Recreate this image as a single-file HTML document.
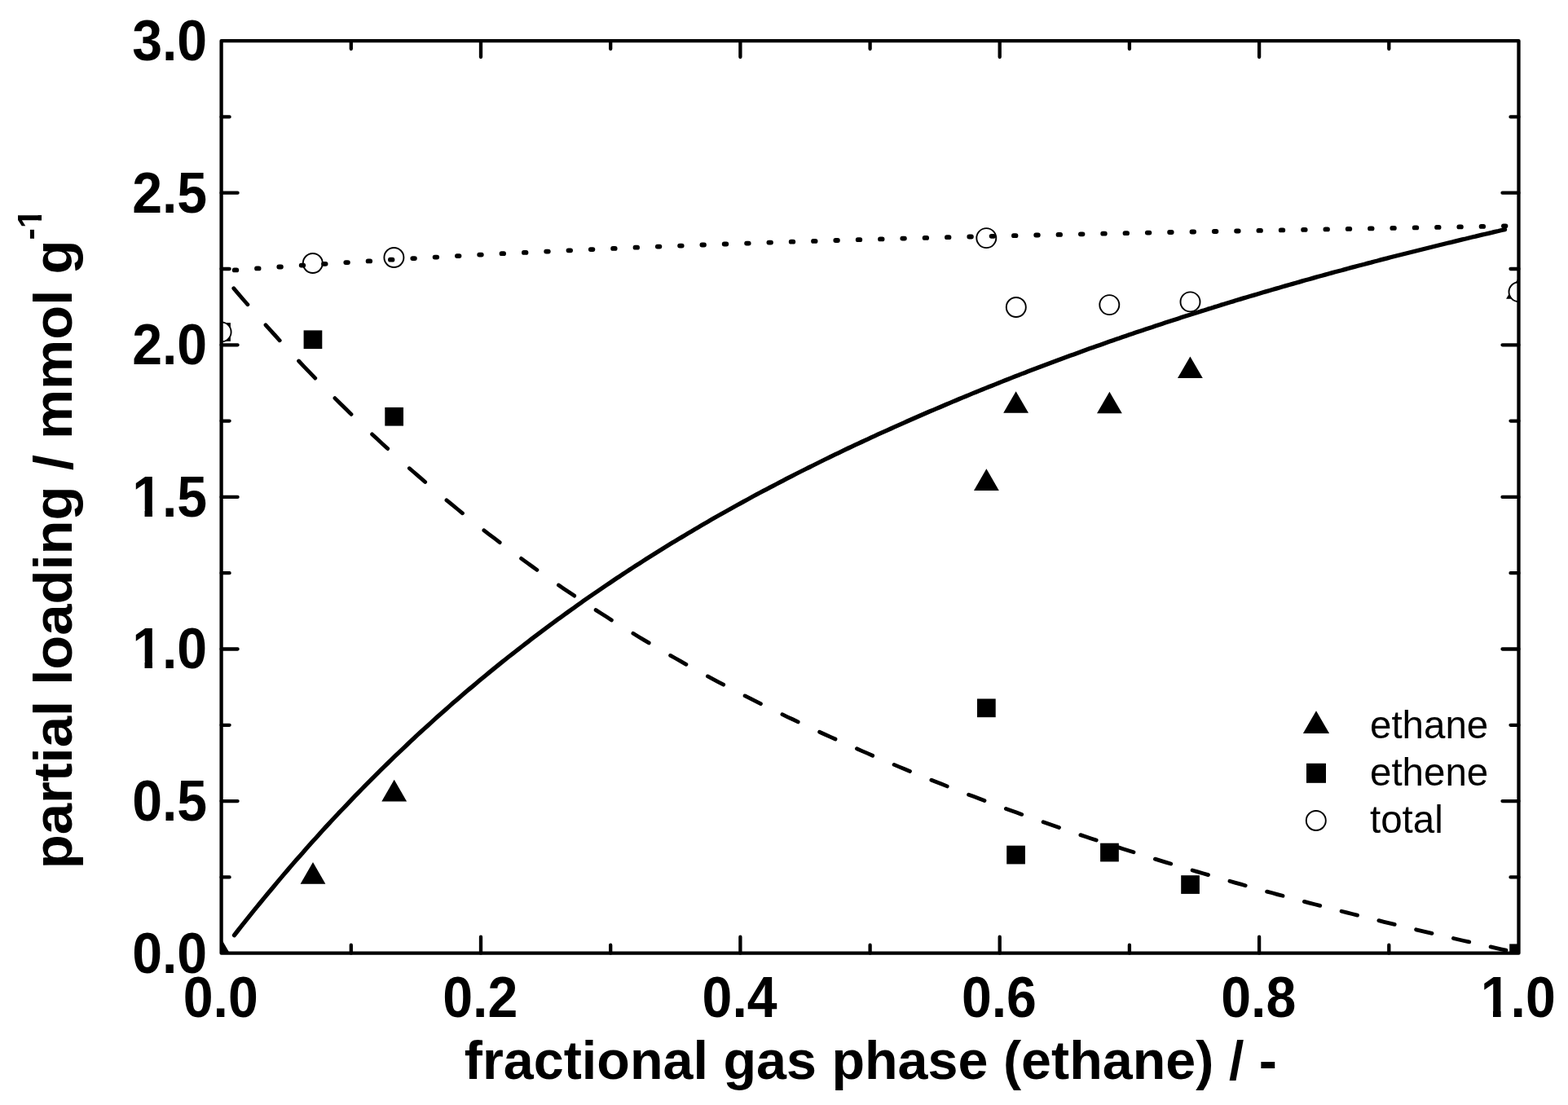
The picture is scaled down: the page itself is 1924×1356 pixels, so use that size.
<!DOCTYPE html>
<html><head><meta charset="utf-8"><title>partial loading</title>
<style>
html,body{margin:0;padding:0;background:#fff;overflow:hidden;width:1924px;height:1356px;}
svg{display:block;}
.b{font-family:"Liberation Sans",Arial,sans-serif;font-weight:bold;fill:#000;}
.r{font-family:"Liberation Sans",Arial,sans-serif;font-weight:normal;fill:#000;}
</style></head><body>
<svg width="1924" height="1356" viewBox="0 0 1924 1356">
<rect width="1924" height="1356" fill="#fff"/>
<defs><clipPath id="pc"><rect x="271.6" y="50.1" width="1591.9" height="1119.6000000000001"/></clipPath></defs>
<g clip-path="url(#pc)">
<g fill="#000"><path d="M271.6,1152.0 L287.0,1178.6 L256.2,1178.6Z"/><path d="M384.0,1058.1 L399.4,1084.7 L368.6,1084.7Z"/><path d="M483.7,956.8 L499.1,983.4 L468.3,983.4Z"/><path d="M1210.4,575.3 L1225.8,601.9 L1195.0,601.9Z"/><path d="M1246.6,480.2 L1262.0,506.8 L1231.2,506.8Z"/><path d="M1361.4,480.7 L1376.8,507.3 L1346.0,507.3Z"/><path d="M1460.4,437.5 L1475.8,464.1 L1445.0,464.1Z"/><path d="M1863.5,340.2 L1878.9,366.8 L1848.1,366.8Z"/></g>
<g fill="#000"><rect x="260.2" y="396.1" width="22.7" height="22.7"/><rect x="372.6" y="405.4" width="22.7" height="22.7"/><rect x="472.3" y="499.9" width="22.7" height="22.7"/><rect x="1199.0" y="857.5" width="22.7" height="22.7"/><rect x="1235.2" y="1037.7" width="22.7" height="22.7"/><rect x="1350.1" y="1034.7" width="22.7" height="22.7"/><rect x="1449.2" y="1074.2" width="22.7" height="22.7"/><rect x="1852.2" y="1158.4" width="22.7" height="22.7"/></g>
<g fill="#fff" stroke="#000" stroke-width="1.9"><circle cx="271.6" cy="407.4" r="12.0"/><circle cx="383.8" cy="323.0" r="12.0"/><circle cx="483.4" cy="316.0" r="12.0"/><circle cx="1210.3" cy="292.1" r="12.0"/><circle cx="1246.8" cy="377.0" r="12.0"/><circle cx="1361.3" cy="374.1" r="12.0"/><circle cx="1460.5" cy="370.4" r="12.0"/><circle cx="1863.5" cy="358.2" r="12.0"/></g>
<polyline fill="none" stroke="#000" stroke-width="5.3" stroke-linecap="round" stroke-linejoin="round" points="287.5,1147.6 291.5,1142.5 295.5,1137.4 299.5,1132.4 303.5,1127.3 307.5,1122.3 311.5,1117.4 315.6,1112.4 319.6,1107.5 323.6,1102.6 327.6,1097.8 331.6,1093.0 335.6,1088.2 339.6,1083.4 343.6,1078.6 347.6,1073.9 351.6,1069.2 355.6,1064.6 359.6,1059.9 363.6,1055.3 367.7,1050.7 371.7,1046.2 375.7,1041.6 379.7,1037.1 383.7,1032.6 387.7,1028.2 391.7,1023.7 395.7,1019.3 399.7,1014.9 403.7,1010.6 407.7,1006.3 411.7,1002.0 415.7,997.7 419.8,993.5 423.8,989.3 427.8,985.1 431.8,980.9 435.8,976.7 439.8,972.6 443.8,968.5 447.8,964.4 451.8,960.4 455.8,956.3 459.8,952.3 463.8,948.3 467.8,944.4 471.9,940.4 475.9,936.5 479.9,932.6 483.9,928.7 487.9,924.9 491.9,921.1 495.9,917.3 499.9,913.5 503.9,909.7 507.9,906.0 511.9,902.2 515.9,898.5 519.9,894.9 524.0,891.2 528.0,887.6 532.0,883.9 536.0,880.3 540.0,876.8 544.0,873.2 548.0,869.7 552.0,866.1 556.0,862.6 560.0,859.2 564.0,855.7 568.0,852.3 572.0,848.8 576.1,845.4 580.1,842.1 584.1,838.7 588.1,835.3 592.1,832.0 596.1,828.7 600.1,825.4 604.1,822.1 608.1,818.9 612.1,815.6 616.1,812.4 620.1,809.2 624.1,806.0 628.2,802.9 632.2,799.7 636.2,796.6 640.2,793.5 644.2,790.4 648.2,787.3 652.2,784.2 656.2,781.2 660.2,778.1 664.2,775.1 668.2,772.1 672.2,769.1 676.2,766.1 680.3,763.2 684.3,760.2 688.3,757.3 692.3,754.4 696.3,751.5 700.3,748.6 704.3,745.8 708.3,742.9 712.3,740.1 716.3,737.2 720.3,734.4 724.3,731.6 728.3,728.9 732.4,726.1 736.4,723.4 740.4,720.6 744.4,717.9 748.4,715.2 752.4,712.5 756.4,709.8 760.4,707.2 764.4,704.5 768.4,701.9 772.4,699.2 776.4,696.6 780.4,694.0 784.5,691.5 788.5,688.9 792.5,686.3 796.5,683.8 800.5,681.3 804.5,678.7 808.5,676.2 812.5,673.7 816.5,671.3 820.5,668.8 824.5,666.3 828.5,663.9 832.5,661.5 836.6,659.1 840.6,656.7 844.6,654.3 848.6,651.9 852.6,649.5 856.6,647.2 860.6,644.8 864.6,642.5 868.6,640.2 872.6,637.8 876.6,635.5 880.6,633.3 884.6,631.0 888.7,628.7 892.7,626.5 896.7,624.2 900.7,622.0 904.7,619.8 908.7,617.6 912.7,615.4 916.7,613.2 920.7,611.0 924.7,608.8 928.7,606.7 932.7,604.5 936.7,602.4 940.8,600.3 944.8,598.2 948.8,596.1 952.8,594.0 956.8,591.9 960.8,589.8 964.8,587.7 968.8,585.6 972.8,583.6 976.8,581.5 980.8,579.5 984.8,577.5 988.8,575.5 992.9,573.5 996.9,571.5 1000.9,569.5 1004.9,567.5 1008.9,565.5 1012.9,563.5 1016.9,561.6 1020.9,559.6 1024.9,557.7 1028.9,555.8 1032.9,553.9 1036.9,551.9 1040.9,550.0 1045.0,548.1 1049.0,546.2 1053.0,544.4 1057.0,542.5 1061.0,540.6 1065.0,538.8 1069.0,536.9 1073.0,535.1 1077.0,533.2 1081.0,531.4 1085.0,529.6 1089.0,527.8 1093.1,526.0 1097.1,524.2 1101.1,522.4 1105.1,520.6 1109.1,518.8 1113.1,517.0 1117.1,515.3 1121.1,513.5 1125.1,511.8 1129.1,510.0 1133.1,508.3 1137.1,506.5 1141.1,504.8 1145.2,503.1 1149.2,501.4 1153.2,499.7 1157.2,498.0 1161.2,496.3 1165.2,494.6 1169.2,492.9 1173.2,491.2 1177.2,489.5 1181.2,487.9 1185.2,486.2 1189.2,484.6 1193.2,482.9 1197.3,481.3 1201.3,479.6 1205.3,478.0 1209.3,476.4 1213.3,474.8 1217.3,473.2 1221.3,471.6 1225.3,470.0 1229.3,468.4 1233.3,466.8 1237.3,465.2 1241.3,463.6 1245.3,462.0 1249.4,460.5 1253.4,458.9 1257.4,457.4 1261.4,455.8 1265.4,454.3 1269.4,452.8 1273.4,451.3 1277.4,449.7 1281.4,448.2 1285.4,446.7 1289.4,445.2 1293.4,443.7 1297.4,442.2 1301.5,440.7 1305.5,439.3 1309.5,437.8 1313.5,436.3 1317.5,434.9 1321.5,433.4 1325.5,432.0 1329.5,430.5 1333.5,429.1 1337.5,427.6 1341.5,426.2 1345.5,424.8 1349.5,423.4 1353.6,421.9 1357.6,420.5 1361.6,419.1 1365.6,417.7 1369.6,416.3 1373.6,415.0 1377.6,413.6 1381.6,412.2 1385.6,410.8 1389.6,409.5 1393.6,408.1 1397.6,406.7 1401.6,405.4 1405.7,404.0 1409.7,402.7 1413.7,401.4 1417.7,400.0 1421.7,398.7 1425.7,397.4 1429.7,396.1 1433.7,394.8 1437.7,393.5 1441.7,392.2 1445.7,390.9 1449.7,389.6 1453.7,388.3 1457.8,387.0 1461.8,385.7 1465.8,384.5 1469.8,383.2 1473.8,381.9 1477.8,380.7 1481.8,379.4 1485.8,378.2 1489.8,376.9 1493.8,375.7 1497.8,374.4 1501.8,373.2 1505.8,372.0 1509.9,370.8 1513.9,369.6 1517.9,368.3 1521.9,367.1 1525.9,365.9 1529.9,364.7 1533.9,363.5 1537.9,362.4 1541.9,361.2 1545.9,360.0 1549.9,358.8 1553.9,357.6 1557.9,356.5 1562.0,355.3 1566.0,354.1 1570.0,353.0 1574.0,351.8 1578.0,350.6 1582.0,349.5 1586.0,348.4 1590.0,347.2 1594.0,346.1 1598.0,344.9 1602.0,343.8 1606.0,342.7 1610.0,341.6 1614.1,340.4 1618.1,339.3 1622.1,338.2 1626.1,337.1 1630.1,336.0 1634.1,334.9 1638.1,333.8 1642.1,332.7 1646.1,331.7 1650.1,330.6 1654.1,329.5 1658.1,328.4 1662.1,327.4 1666.2,326.3 1670.2,325.2 1674.2,324.2 1678.2,323.1 1682.2,322.1 1686.2,321.0 1690.2,320.0 1694.2,318.9 1698.2,317.9 1702.2,316.9 1706.2,315.8 1710.2,314.8 1714.2,313.8 1718.3,312.8 1722.3,311.8 1726.3,310.8 1730.3,309.8 1734.3,308.8 1738.3,307.8 1742.3,306.8 1746.3,305.8 1750.3,304.8 1754.3,303.8 1758.3,302.8 1762.3,301.8 1766.3,300.8 1770.4,299.8 1774.4,298.8 1778.4,297.8 1782.4,296.9 1786.4,295.9 1790.4,294.9 1794.4,293.9 1798.4,293.0 1802.4,292.0 1806.4,291.0 1810.4,290.1 1814.4,289.1 1818.4,288.2 1822.5,287.2 1826.5,286.3 1830.5,285.4 1834.5,284.4 1838.5,283.5 1842.5,282.5 1846.5,281.6"/>
<path fill="none" stroke="#000" stroke-width="4.8" stroke-linecap="round" stroke-linejoin="round" d="M286.8,353.9 L292.5,360.6 L298.2,367.2 L303.9,373.8 M326.0,398.8 L331.7,405.2 L337.5,411.5 L343.2,417.8 M366.6,443.0 L373.3,450.1 L380.1,457.1 L386.8,464.1 M410.9,488.6 L417.6,495.2 L424.3,501.8 L431.0,508.4 M456.6,532.9 L463.0,538.8 L469.3,544.7 L475.7,550.6 M502.4,574.7 L508.8,580.3 L515.3,585.9 L521.7,591.5 M548.0,613.8 L554.5,619.2 L561.0,624.5 L567.5,629.8 M593.9,650.8 L600.3,655.8 L606.8,660.7 L613.2,665.7 M639.6,685.4 L646.1,690.1 L652.5,694.8 L658.9,699.4 M685.4,718.0 L691.8,722.4 L698.3,726.8 L704.7,731.1 M731.1,748.6 L737.6,752.7 L744.0,756.8 L750.4,760.9 M776.9,777.3 L783.3,781.2 L789.8,785.1 L796.2,788.9 M822.6,804.4 L829.1,808.0 L835.5,811.7 L841.9,815.3 M868.4,829.9 L874.8,833.3 L881.3,836.8 L887.7,840.2 M914.1,853.9 L920.6,857.2 L927.0,860.4 L933.4,863.7 M959.9,876.7 L966.3,879.8 L972.8,882.8 L979.2,885.9 M1005.6,898.2 L1012.1,901.2 L1018.5,904.1 L1025.0,907.0 M1051.4,918.8 L1057.8,921.6 L1064.3,924.4 L1070.7,927.2 M1097.1,938.4 L1103.6,941.1 L1110.0,943.8 L1116.5,946.4 M1142.9,957.2 L1149.3,959.8 L1155.8,962.3 L1162.2,964.9 M1188.6,975.2 L1195.1,977.6 L1201.5,980.1 L1208.0,982.5 M1234.4,992.4 L1240.8,994.7 L1247.3,997.1 L1253.7,999.4 M1280.1,1008.8 L1286.6,1011.1 L1293.0,1013.3 L1299.5,1015.5 M1325.9,1024.6 L1332.3,1026.7 L1338.8,1028.9 L1345.2,1031.0 M1371.6,1039.6 L1378.1,1041.7 L1384.5,1043.8 L1391.0,1045.8 M1417.4,1054.1 L1423.8,1056.1 L1430.3,1058.1 L1436.7,1060.0 M1463.1,1068.0 L1469.6,1069.9 L1476.0,1071.8 L1482.5,1073.6 M1508.9,1081.3 L1515.3,1083.1 L1521.8,1084.9 L1528.2,1086.7 M1554.6,1094.1 L1561.1,1095.8 L1567.5,1097.6 L1574.0,1099.3 M1600.4,1106.4 L1606.8,1108.1 L1613.3,1109.8 L1619.7,1111.4 M1646.1,1118.2 L1652.6,1119.9 L1659.0,1121.5 L1665.5,1123.1 M1691.9,1129.7 L1698.3,1131.3 L1704.8,1132.8 L1711.2,1134.4 M1737.6,1140.8 L1744.1,1142.3 L1750.5,1143.8 L1757.0,1145.3 M1783.4,1151.5 L1789.8,1153.0 L1796.3,1154.5 L1802.7,1155.9 M1829.1,1161.9 L1835.4,1163.3 L1841.7,1164.8 L1848.0,1166.2"/>
<path fill="none" stroke="#000" stroke-width="5.8" stroke-linecap="round" d="M287.7,331.4 L290.3,331.4 M315.0,329.4 L317.6,329.4 M342.3,327.5 L344.9,327.5 M369.7,325.6 L372.3,325.6 M397.0,323.8 L399.6,323.8 M424.3,322.1 L426.9,322.1 M451.6,320.4 L454.2,320.4 M478.9,318.7 L481.5,318.7 M506.3,317.1 L508.9,317.1 M533.6,315.6 L536.2,315.6 M560.9,314.1 L563.5,314.1 M588.2,312.6 L590.8,312.6 M615.5,311.2 L618.1,311.2 M642.9,309.9 L645.5,309.9 M670.2,308.6 L672.8,308.6 M697.5,307.3 L700.1,307.3 M724.8,306.1 L727.4,306.1 M752.1,304.9 L754.7,304.9 M779.5,303.7 L782.1,303.7 M806.8,302.6 L809.4,302.6 M834.1,301.6 L836.7,301.6 M861.4,300.5 L864.0,300.5 M888.7,299.5 L891.3,299.5 M916.1,298.6 L918.7,298.6 M943.4,297.6 L946.0,297.6 M970.7,296.7 L973.3,296.7 M998.0,295.9 L1000.6,295.9 M1025.3,295.0 L1027.9,295.0 M1052.7,294.2 L1055.3,294.2 M1080.0,293.4 L1082.6,293.4 M1107.3,292.6 L1109.9,292.6 M1134.6,291.9 L1137.2,291.9 M1161.9,291.2 L1164.5,291.2 M1189.3,290.5 L1191.9,290.5 M1216.6,289.8 L1219.2,289.8 M1243.9,289.2 L1246.5,289.2 M1271.2,288.5 L1273.8,288.5 M1298.5,287.9 L1301.1,287.9 M1325.9,287.3 L1328.5,287.3 M1353.2,286.7 L1355.8,286.7 M1380.5,286.2 L1383.1,286.2 M1407.8,285.6 L1410.4,285.6 M1435.1,285.0 L1437.7,285.0 M1462.5,284.5 L1465.1,284.5 M1489.8,284.0 L1492.4,284.0 M1517.1,283.5 L1519.7,283.5 M1544.4,282.9 L1547.0,282.9 M1571.7,282.4 L1574.3,282.4 M1599.1,281.9 L1601.7,281.9 M1626.4,281.4 L1629.0,281.4 M1653.7,280.9 L1656.3,280.9 M1681.0,280.4 L1683.6,280.4 M1708.3,279.9 L1710.9,279.9 M1735.7,279.4 L1738.3,279.4 M1763.0,278.9 L1765.6,278.9 M1790.3,278.4 L1792.9,278.4 M1817.6,277.9 L1820.2,277.9 M1844.9,277.3 L1847.5,277.3"/>
</g>
<path fill="none" stroke="#000" stroke-width="4.3" stroke-linecap="round" d="M430.8,1169.7v-10 M430.8,50.1v10 M590.0,1169.7v-20 M590.0,50.1v20 M749.2,1169.7v-10 M749.2,50.1v10 M908.4,1169.7v-20 M908.4,50.1v20 M1067.6,1169.7v-10 M1067.6,50.1v10 M1226.7,1169.7v-20 M1226.7,50.1v20 M1385.9,1169.7v-10 M1385.9,50.1v10 M1545.1,1169.7v-20 M1545.1,50.1v20 M1704.3,1169.7v-10 M1704.3,50.1v10 M271.6,1076.4h10 M1863.5,1076.4h-10 M271.6,983.1h20 M1863.5,983.1h-20 M271.6,889.8h10 M1863.5,889.8h-10 M271.6,796.5h20 M1863.5,796.5h-20 M271.6,703.2h10 M1863.5,703.2h-10 M271.6,609.9h20 M1863.5,609.9h-20 M271.6,516.6h10 M1863.5,516.6h-10 M271.6,423.3h20 M1863.5,423.3h-20 M271.6,330.0h10 M1863.5,330.0h-10 M271.6,236.7h20 M1863.5,236.7h-20 M271.6,143.4h10 M1863.5,143.4h-10"/>
<rect x="271.6" y="50.1" width="1591.9" height="1119.6" fill="none" stroke="#000" stroke-width="4.3" stroke-linejoin="round"/>
<defs><clipPath id="c10"><path clip-rule="evenodd" d="M140,760H270V840H140Z M163,811.6H177.55V821H163Z M186.95,811.6H201V821H186.95Z"/></clipPath><clipPath id="c15"><path clip-rule="evenodd" d="M140,573H270V653H140Z M163,625.6H177.55V635H163Z M186.95,625.6H201V635H186.95Z"/></clipPath><clipPath id="cx10"><path clip-rule="evenodd" d="M1790,1180H1924V1270H1790Z M1817,1239.6H1832.0V1249H1817Z M1841.6,1239.6H1854V1249H1841.6Z"/></clipPath><clipPath id="csup"><path clip-rule="evenodd" d="M0,200H140V1100H0Z M45.4,250H53V263.9H45.4Z M45.4,270.6H53V280H45.4Z"/></clipPath></defs>
<text class="b" transform="translate(254.2,1193.6) scale(0.953,1)" font-size="69.5" text-anchor="end">0.0</text>
<text class="b" transform="translate(254.2,1007.0) scale(0.953,1)" font-size="69.5" text-anchor="end">0.5</text>
<g clip-path="url(#c10)"><text class="b" transform="translate(254.2,820.4) scale(0.953,1)" font-size="69.5" text-anchor="end">1.0</text></g>
<g clip-path="url(#c15)"><text class="b" transform="translate(254.2,633.8) scale(0.953,1)" font-size="69.5" text-anchor="end">1.5</text></g>
<text class="b" transform="translate(254.2,447.2) scale(0.953,1)" font-size="69.5" text-anchor="end">2.0</text>
<text class="b" transform="translate(254.2,260.6) scale(0.953,1)" font-size="69.5" text-anchor="end">2.5</text>
<text class="b" transform="translate(254.2,74.0) scale(0.953,1)" font-size="69.5" text-anchor="end">3.0</text>
<text class="b" transform="translate(270.8,1248.3) scale(0.953,1)" font-size="69.5" text-anchor="middle">0.0</text>
<text class="b" transform="translate(589.2,1248.3) scale(0.953,1)" font-size="69.5" text-anchor="middle">0.2</text>
<text class="b" transform="translate(907.6,1248.3) scale(0.953,1)" font-size="69.5" text-anchor="middle">0.4</text>
<text class="b" transform="translate(1225.9,1248.3) scale(0.953,1)" font-size="69.5" text-anchor="middle">0.6</text>
<text class="b" transform="translate(1544.3,1248.3) scale(0.953,1)" font-size="69.5" text-anchor="middle">0.8</text>
<g clip-path="url(#cx10)"><text class="b" transform="translate(1862.7,1248.3) scale(0.953,1)" font-size="69.5" text-anchor="middle">1.0</text></g>
<text class="b" transform="translate(569.8,1324) scale(0.9965,1)" font-size="66.7">fractional gas phase (ethane) / -</text>
<g clip-path="url(#csup)"><text class="b" transform="translate(88.2,1066.3) rotate(-90) scale(1.019,1)" font-size="67.5">partial loading / mmol g<tspan font-size="42.3" dy="-37">-1</tspan></text></g>
<g fill="#000"><path d="M1615.0,872.2 L1631.1,899.9 L1598.9,899.9Z"/><rect x="1603.0" y="936.8" width="24.0" height="24.0"/></g>
<circle cx="1614.8" cy="1007" r="12" fill="#fff" stroke="#000" stroke-width="1.9"/>
<text class="r" transform="translate(1681.0,906.0) scale(1.0,1)" font-size="47.5">ethane</text>
<text class="r" transform="translate(1681.0,964.1) scale(1.0,1)" font-size="47.5">ethene</text>
<text class="r" transform="translate(1681.0,1022.2) scale(1.0,1)" font-size="47.5">total</text>
</svg>
</body></html>
